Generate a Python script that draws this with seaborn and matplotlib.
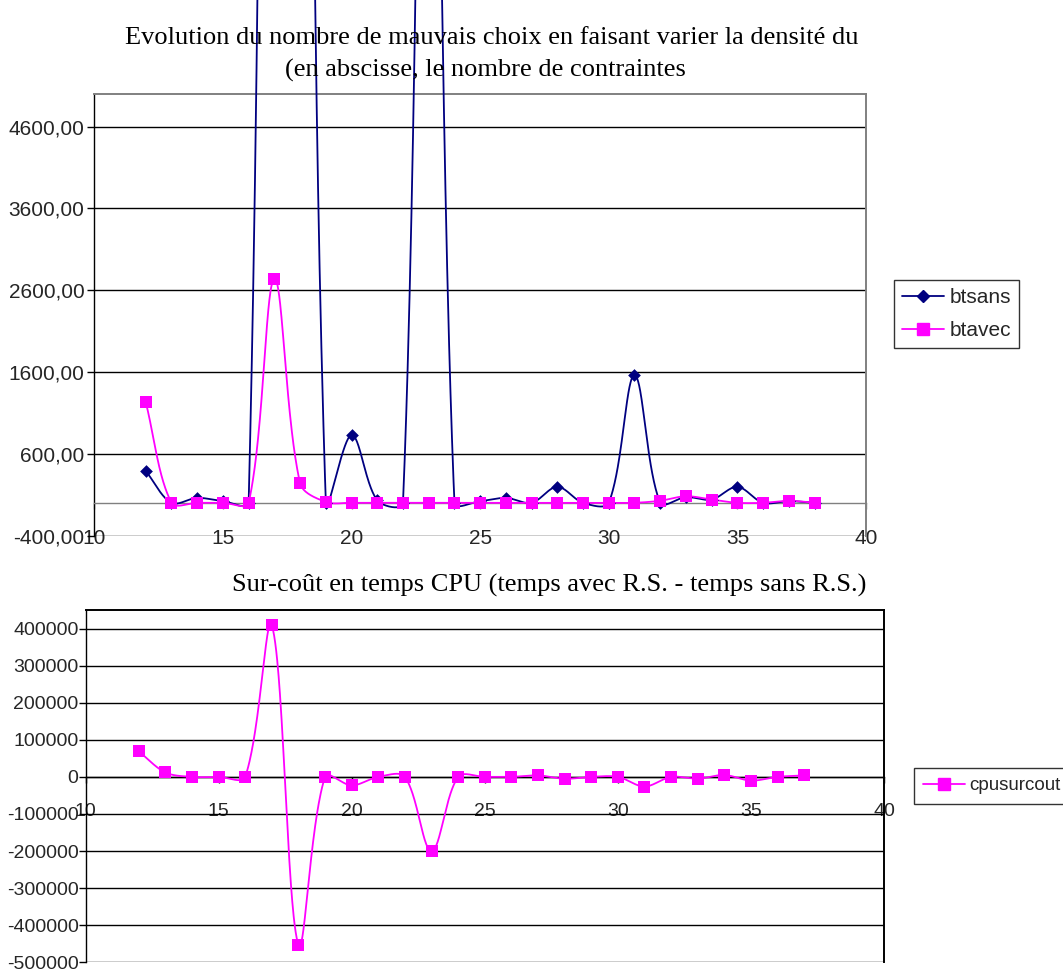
import numpy as np
import matplotlib
matplotlib.use("Agg")
import matplotlib.pyplot as plt
from matplotlib.lines import Line2D
from matplotlib.ticker import FixedLocator, FixedFormatter
import seaborn as sns

# ---- data -------------------------------------------------------------
x_contraintes = list(range(12, 39))
btsans = [390, 0, 60, 20, 0, 25000, 20000, 0, 830, 30, 0, 15000, 0, 20,
          60, 0, 195, 0, 0, 1560, 0, 70, 40, 195, 0, 20, 0]
btavec = [1230, 0, 0, 0, 0, 2740, 240, 10, 0, 0, 0, 0, 0, 0,
          0, 0, 0, 0, 0, 0, 25, 80, 40, 0, 0, 25, 0]

x_cpu = list(range(12, 38))
cpusurcout = [69000, 12000, 0, 0, 0, 409000, -453000, 0, -23000, 0, 0,
              -200000, 0, 0, 0, 4000, -5000, 0, 0, -26000, 0, -5000, 5000,
              -10000, 0, 4000]

x_ticks = [10, 15, 20, 25, 30, 35, 40]
top_y_ticks = [-400, 600, 1600, 2600, 3600, 4600]
top_y_labels = ["-400,00", "600,00", "1600,00", "2600,00", "3600,00", "4600,00"]
cpu_y_ticks = [-500000, -400000, -300000, -200000, -100000, 0,
               100000, 200000, 300000, 400000]
cpu_y_labels = [str(v) for v in cpu_y_ticks]

title_top_1 = "Evolution du nombre de mauvais choix en faisant varier la densité du"
title_top_2 = "(en abscisse, le nombre de contraintes"
title_cpu = "Sur-coût en temps CPU (temps avec R.S. - temps sans R.S.)"

NAVY = "#000080"
MAGENTA = "#FF00FF"
GREY = "#808080"

# ---- style -------------------------------------------------------------
sns.set_theme(style="white")
plt.rcParams["font.family"] = ["Liberation Sans", "DejaVu Sans"]
SERIF = ["Liberation Serif", "DejaVu Serif"]

W, H = 1063, 972
fig = plt.figure(figsize=(W / 100, H / 100), dpi=100)
fig.patch.set_facecolor("white")


def rect(left, top, right, bottom):
    return [left / W, 1 - bottom / H, (right - left) / W, (bottom - top) / H]


def smooth_curve(ax, xs, ys, n=60):
    """Bezier smoothing computed in screen space, with control-point
    handles scaled by neighbouring segment lengths."""
    P = ax.transData.transform(np.column_stack([xs, ys]).astype(float))
    out = []
    t = np.linspace(0, 1, n)[:, None]
    for i in range(len(P) - 1):
        p0 = P[i - 1] if i > 0 else P[i]
        p1, p2 = P[i], P[i + 1]
        p3 = P[i + 2] if i + 2 < len(P) else P[i + 1]
        d01 = np.linalg.norm(p1 - p0)
        d12 = np.linalg.norm(p2 - p1)
        d23 = np.linalg.norm(p3 - p2)
        f1 = d12 / (d01 + d12) / 3 if d01 + d12 > 0 else 0
        f2 = d12 / (d12 + d23) / 3 if d12 + d23 > 0 else 0
        c1 = p1 + (p2 - p0) * f1
        c2 = p2 - (p3 - p1) * f2
        seg = ((1 - t) ** 3) * p1 + 3 * ((1 - t) ** 2) * t * c1 \
            + 3 * (1 - t) * (t ** 2) * c2 + (t ** 3) * p2
        out.append(seg if i == 0 else seg[1:])
    return ax.transData.inverted().transform(np.vstack(out))


def style_axes(ax, frame_color, zero_color, fs, ypad):
    ax.set_facecolor("white")
    ax.grid(False)
    for side in ("top", "right"):
        ax.spines[side].set_color(frame_color)
        ax.spines[side].set_linewidth(1.4)
    ax.spines["left"].set_color("black")
    ax.spines["left"].set_linewidth(1.0)
    ax.spines["bottom"].set_position(("data", 0))
    ax.spines["bottom"].set_color(zero_color)
    ax.spines["bottom"].set_linewidth(1.0)
    ax.xaxis.set_major_locator(FixedLocator(x_ticks))
    ax.set_xticklabels([str(v) for v in x_ticks])
    ax.tick_params(axis="x", direction="out", length=4, width=1,
                   color=zero_color, pad=15, labelsize=fs)
    ax.tick_params(axis="y", direction="out", length=5, width=1,
                   color="black", pad=ypad, labelsize=fs)
    ax.tick_params(left=True, bottom=True)


# ---- top chart ---------------------------------------------------------
ax1 = fig.add_axes(rect(94.3, 94, 866, 535.5))
ax1.set_xlim(10, 40)
ax1.set_ylim(-400, 5000)
for yv in top_y_ticks:
    ax1.axhline(yv, color="black", lw=1.0, zorder=1)
ax1.yaxis.set_major_locator(FixedLocator(top_y_ticks))
ax1.yaxis.set_major_formatter(FixedFormatter(top_y_labels))
style_axes(ax1, GREY, GREY, 15, 2)

c_sans = smooth_curve(ax1, x_contraintes, btsans)
c_avec = smooth_curve(ax1, x_contraintes, btavec)
sns.lineplot(x=c_sans[:, 0], y=c_sans[:, 1], sort=False, estimator=None,
             color=NAVY, lw=1.3, ax=ax1, zorder=3)
ax1.lines[-1].set_clip_on(False)
sns.lineplot(x=c_avec[:, 0], y=c_avec[:, 1], sort=False, estimator=None,
             color=MAGENTA, lw=1.3, ax=ax1, zorder=4)
sns.scatterplot(x=x_contraintes, y=btsans, marker="D", s=42, color=NAVY,
                edgecolor=NAVY, linewidth=0, ax=ax1, zorder=5)
sns.scatterplot(x=x_contraintes, y=btavec, marker="s", s=72, color=MAGENTA,
                edgecolor=MAGENTA, linewidth=0, ax=ax1, zorder=6)
ax1.set_xlabel("")
ax1.set_ylabel("")

fig.text(492 / W, 1 - 38 / H, title_top_1, ha="center", va="center",
         fontsize=19, family=SERIF, color="black")
fig.text(485 / W, 1 - 70 / H, title_top_2, ha="center", va="center",
         fontsize=19, family=SERIF, color="black")

h_sans = Line2D([], [], color=NAVY, lw=1.3, marker="D", markersize=6.5,
                markerfacecolor=NAVY, markeredgecolor=NAVY)
h_avec = Line2D([], [], color=MAGENTA, lw=1.3, marker="s", markersize=8,
                markerfacecolor=MAGENTA, markeredgecolor=MAGENTA)
leg1 = fig.legend([h_sans, h_avec], ["btsans", "btavec"], loc="upper left",
                  bbox_to_anchor=(894 / W, 1 - 280 / H), fontsize=15,
                  frameon=True, fancybox=False, edgecolor="black",
                  borderpad=0.4, handlelength=2.0, handletextpad=0.25,
                  labelspacing=0.65, borderaxespad=0)
leg1.get_frame().set_linewidth(1.0)

# ---- bottom chart ------------------------------------------------------
ax2 = fig.add_axes(rect(85.5, 610, 884, 962.3))
ax2.set_xlim(10, 40)
ax2.set_ylim(-500000, 450000)
for yv in cpu_y_ticks:
    ax2.axhline(yv, color="black", lw=1.0, zorder=1)
ax2.yaxis.set_major_locator(FixedLocator(cpu_y_ticks))
ax2.yaxis.set_major_formatter(FixedFormatter(cpu_y_labels))
style_axes(ax2, "black", "black", 14, 0)

c_cpu = smooth_curve(ax2, x_cpu, cpusurcout)
sns.lineplot(x=c_cpu[:, 0], y=c_cpu[:, 1], sort=False, estimator=None,
             color=MAGENTA, lw=1.3, ax=ax2, zorder=3)
sns.scatterplot(x=x_cpu, y=cpusurcout, marker="s", s=72, color=MAGENTA,
                edgecolor=MAGENTA, linewidth=0, ax=ax2, zorder=5)
ax2.set_xlabel("")
ax2.set_ylabel("")

fig.text(549.5 / W, 1 - 585 / H, title_cpu, ha="center", va="center",
         fontsize=19, family=SERIF, color="black")

h_cpu = Line2D([], [], color=MAGENTA, lw=1.3, marker="s", markersize=8,
               markerfacecolor=MAGENTA, markeredgecolor=MAGENTA)
leg2 = fig.legend([h_cpu], ["cpusurcout"], loc="upper left",
                  bbox_to_anchor=(914 / W, 1 - 767.7 / H), fontsize=13.5,
                  frameon=True, fancybox=False, edgecolor="black",
                  borderpad=0.5, handlelength=2.2, handletextpad=0.27,
                  borderaxespad=0)
leg2.get_frame().set_linewidth(1.0)

fig.savefig("out.png", dpi=100, facecolor="white")
